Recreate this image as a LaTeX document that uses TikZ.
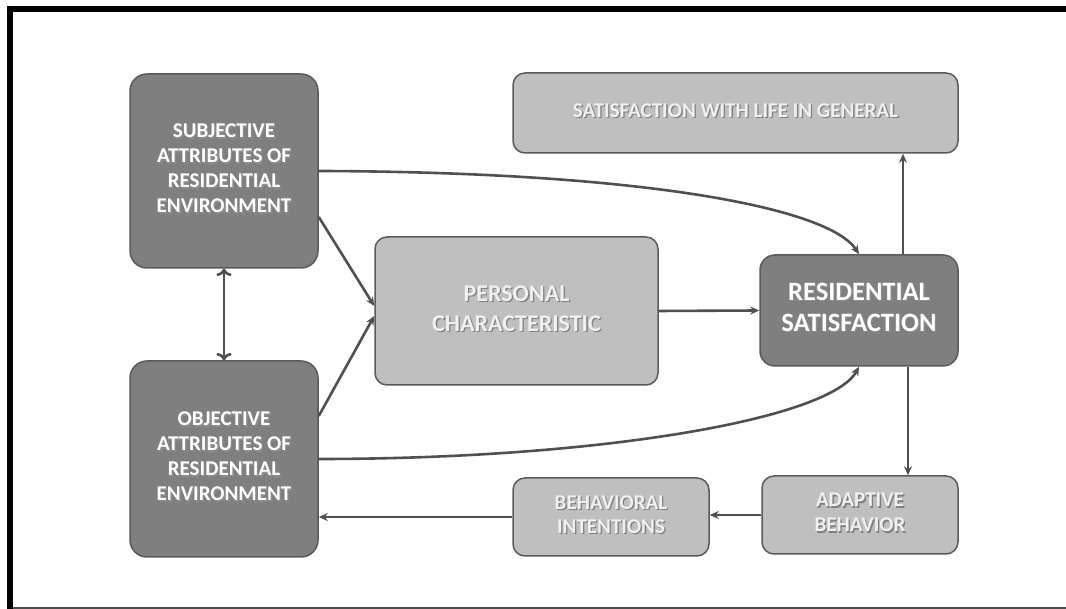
\documentclass[tikz,border=0pt]{standalone}
\usepackage{fontspec}
\setmainfont{Carlito}
\usetikzlibrary{arrows.meta}

\definecolor{boxdark}{HTML}{7F7F7F}
\definecolor{boxlight}{HTML}{BFBFBF}
\definecolor{boxedge}{HTML}{5A5A5A}
\definecolor{arrowgray}{HTML}{505050}

% text with a small drop shadow, #1 = shadow colour
\newcommand{\embossed}[2]{\leavevmode\rlap{\kern1.3pt\raisebox{-1.3pt}{\textcolor{#1}{\begin{tabular}{@{}c@{}}#2\end{tabular}}}}\begin{tabular}{@{}c@{}}#2\end{tabular}}

\begin{document}
\begin{tikzpicture}[x=1pt, y=1pt,
    darkbox/.style={draw=boxedge, line width=1.5pt, fill=boxdark, rounded corners=17pt,
        inner sep=0pt, text=white, font=\bfseries\fontsize{21}{25}\selectfont},
    lightbox/.style={draw=boxedge, line width=1.5pt, fill=boxlight, rounded corners=12pt,
        inner sep=0pt, text=white!94!black, font=\bfseries\fontsize{21}{25}\selectfont},
    flow/.style={draw=arrowgray, line width=2.6pt, -{Stealth[length=9pt,width=8pt]}}]
        \useasboundingbox (0,0) rectangle (1066,609);

        % Frame
        \draw[line width=6pt] (10,0) -- (10,600) -- (1066,600);
        \draw[line width=1.5pt, black!70] (13,1) -- (1066,1);

        % Attributes of the environment
        \node (subj) at (224,438) [darkbox, minimum width=188pt, minimum height=194pt]
            {\embossed{black!45}{SUBJECTIVE\\ATTRIBUTES OF\\RESIDENTIAL\\ENVIRONMENT}};
        \node (obj) at (224,150) [darkbox, minimum width=188pt, minimum height=196pt]
            {\embossed{black!45}{OBJECTIVE\\ATTRIBUTES OF\\RESIDENTIAL\\ENVIRONMENT}};

        % Personal characteristic
        \node (pers) at (516.5,298) [lightbox, minimum width=283pt, minimum height=148pt,
            font=\bfseries\fontsize{24}{30}\selectfont]
            {\embossed{black!50}{PERSONAL\\CHARACTERISTIC}};

        % Residential satisfaction
        \node (res) at (859,298.5) [darkbox, rounded corners=15pt, minimum width=198pt, minimum height=111pt,
            font=\bfseries\fontsize{26.5}{31}\selectfont]
            {\embossed{black!45}{RESIDENTIAL\\SATISFACTION}};

        % Outcomes
        \node (life) at (735.5,496) [lightbox, minimum width=445pt, minimum height=80pt]
            {\embossed{black!50}{SATISFACTION WITH LIFE IN GENERAL}};
        \node (adapt) at (860,94) [lightbox, minimum width=196pt, minimum height=78pt]
            {\embossed{black!50}{ADAPTIVE\\BEHAVIOR}};
        \node (behav) at (611,92) [lightbox, minimum width=196pt, minimum height=78pt,
            font=\bfseries\fontsize{21}{24}\selectfont]
            {\embossed{black!50}{BEHAVIORAL\\INTENTIONS}};

        % Connections
        \draw[flow, <->] (subj.south) -- (obj.north);
        \draw[flow] ([yshift=-46pt]subj.east) -- ([yshift=5pt]pers.west);
        \draw[flow] ([yshift=43pt]obj.east) -- ([yshift=-5pt]pers.west);
        \draw[flow] (subj.east) .. controls (650,437) and (830,400) .. (res.north);
        \draw[flow] (obj.east) .. controls (600,150) and (830,190) .. (res.south);
        \draw[flow] (pers.east) -- (res.west);
        \draw[flow] ([xshift=44pt]res.north) -- ([xshift=44pt]res.north |- life.south);
        \draw[flow] ([xshift=49pt]res.south) -- ([xshift=49pt]res.south |- adapt.north);
        \draw[flow] (adapt.west) -- (adapt.west -| behav.east);
        \draw[flow] (behav.west) -- (behav.west -| obj.east);
    \end{tikzpicture}
\end{document}
